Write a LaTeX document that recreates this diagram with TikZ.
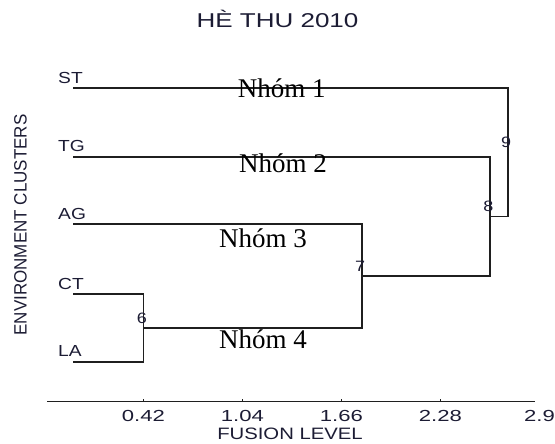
\documentclass[tikz,border=0pt]{standalone}
\usepackage{fontspec}
\setmainfont{Liberation Serif}
\setsansfont{Liberation Sans}
\usetikzlibrary{positioning, calc}

\definecolor{inkc}{RGB}{28,28,52}
\newcommand{\wideby}[2]{\scalebox{#1}[1]{#2}}

\begin{document}
\begin{tikzpicture}[
		x=1pt, y=-1pt,
		% Estilos
		link/.style={draw=black!88, line width=1.6pt},
		leaf/.style={anchor=base west, inner sep=0pt, text=inkc, font=\sffamily\fontsize{16}{16}\selectfont},
		fuse/.style={inner sep=0pt, text=inkc, font=\sffamily\fontsize{15}{15}\selectfont},
		grouplbl/.style={anchor=base, inner sep=0pt, font=\fontsize{27}{27}\selectfont},
		ticklbl/.style={anchor=base, inner sep=0pt, text=inkc, font=\sffamily\fontsize{16}{16}\selectfont}
		]
		\useasboundingbox (0,0) rectangle (555,444);
		
		% --- TITULO ---
		\node [anchor=base, inner sep=0pt, text=inkc, font=\sffamily\fontsize{20}{20}\selectfont] (title) at (277.5,27.5) {\wideby{1.3}{HÈ THU 2010}};
		
		% --- HOJAS ---
		\coordinate (ST) at (73,88.3);
		\coordinate (TG) at (73,156.7);
		\coordinate (AG) at (73,224);
		\coordinate (CT) at (73,294);
		\coordinate (LA) at (73,361.7);
		\foreach \l in {ST,TG,AG,CT,LA}
			\node [leaf] (t\l) at ($(\l)+(-15,-5)$) {\wideby{1.2}{\l}};
		
		% --- FUSIONES ---
		\coordinate (m6) at (143.3,327.85);
		\coordinate (m7) at (361.7,275.9);
		\coordinate (m8) at (490,216.3);
		\coordinate (m9) at (507.7,152.3);
		
		\draw [link] (CT) -| (m6) |- (LA);
		\draw [link] (AG) -| (m7) |- (m6);
		\draw [link] (TG) -| (m8) |- (m7);
		\draw [link] (ST) -| (m9) |- (m8);
		
		\foreach \m in {6,7,8,9}
			\node [fuse] (l\m) at ($(m\m)+(-1.5,-9.6)$) {\wideby{1.2}{\m}};
		
		% --- GRUPOS ---
		\node [grouplbl] (g1) at (281.7,98) {Nhóm 1};
		\node [grouplbl] (g2) at (283,172.5) {Nhóm 2};
		\node [grouplbl] (g3) at (263,247) {Nhóm 3};
		\node [grouplbl] (g4) at (263,348) {Nhóm 4};
		
		% --- EJES ---
		\coordinate (ax0) at (47,401.4);
		\coordinate (ax1) at (534.5,401.4);
		\draw [link] (ax0) -- (ax1);
		\foreach \v [count=\i] in {0.42,1.04,1.66,2.28,2.9} {
			\coordinate (t\i) at ({143.4+(\v-0.42)*159.7},401.4);
			\node [ticklbl] (v\i) at ($(t\i)+(0,20)$) {\wideby{1.38}{\v}};
		}
		\foreach \i in {1,...,4}
			\draw [link, line width=0.8pt] (t\i) -- ++(0,-2.5);
		
		\node [anchor=base, inner sep=0pt, text=inkc, font=\sffamily\fontsize{16.5}{16.5}\selectfont] (xlab) at (290,439.5) {\wideby{1.23}{FUSION LEVEL}};
		\node [rotate=90, inner sep=0pt, text=inkc, font=\sffamily\fontsize{17}{17}\selectfont] (ylab) at (20.5,225) {\scalebox{1}[1.05]{ENVIRONMENT CLUSTERS}};
		
	\end{tikzpicture}
\end{document}
